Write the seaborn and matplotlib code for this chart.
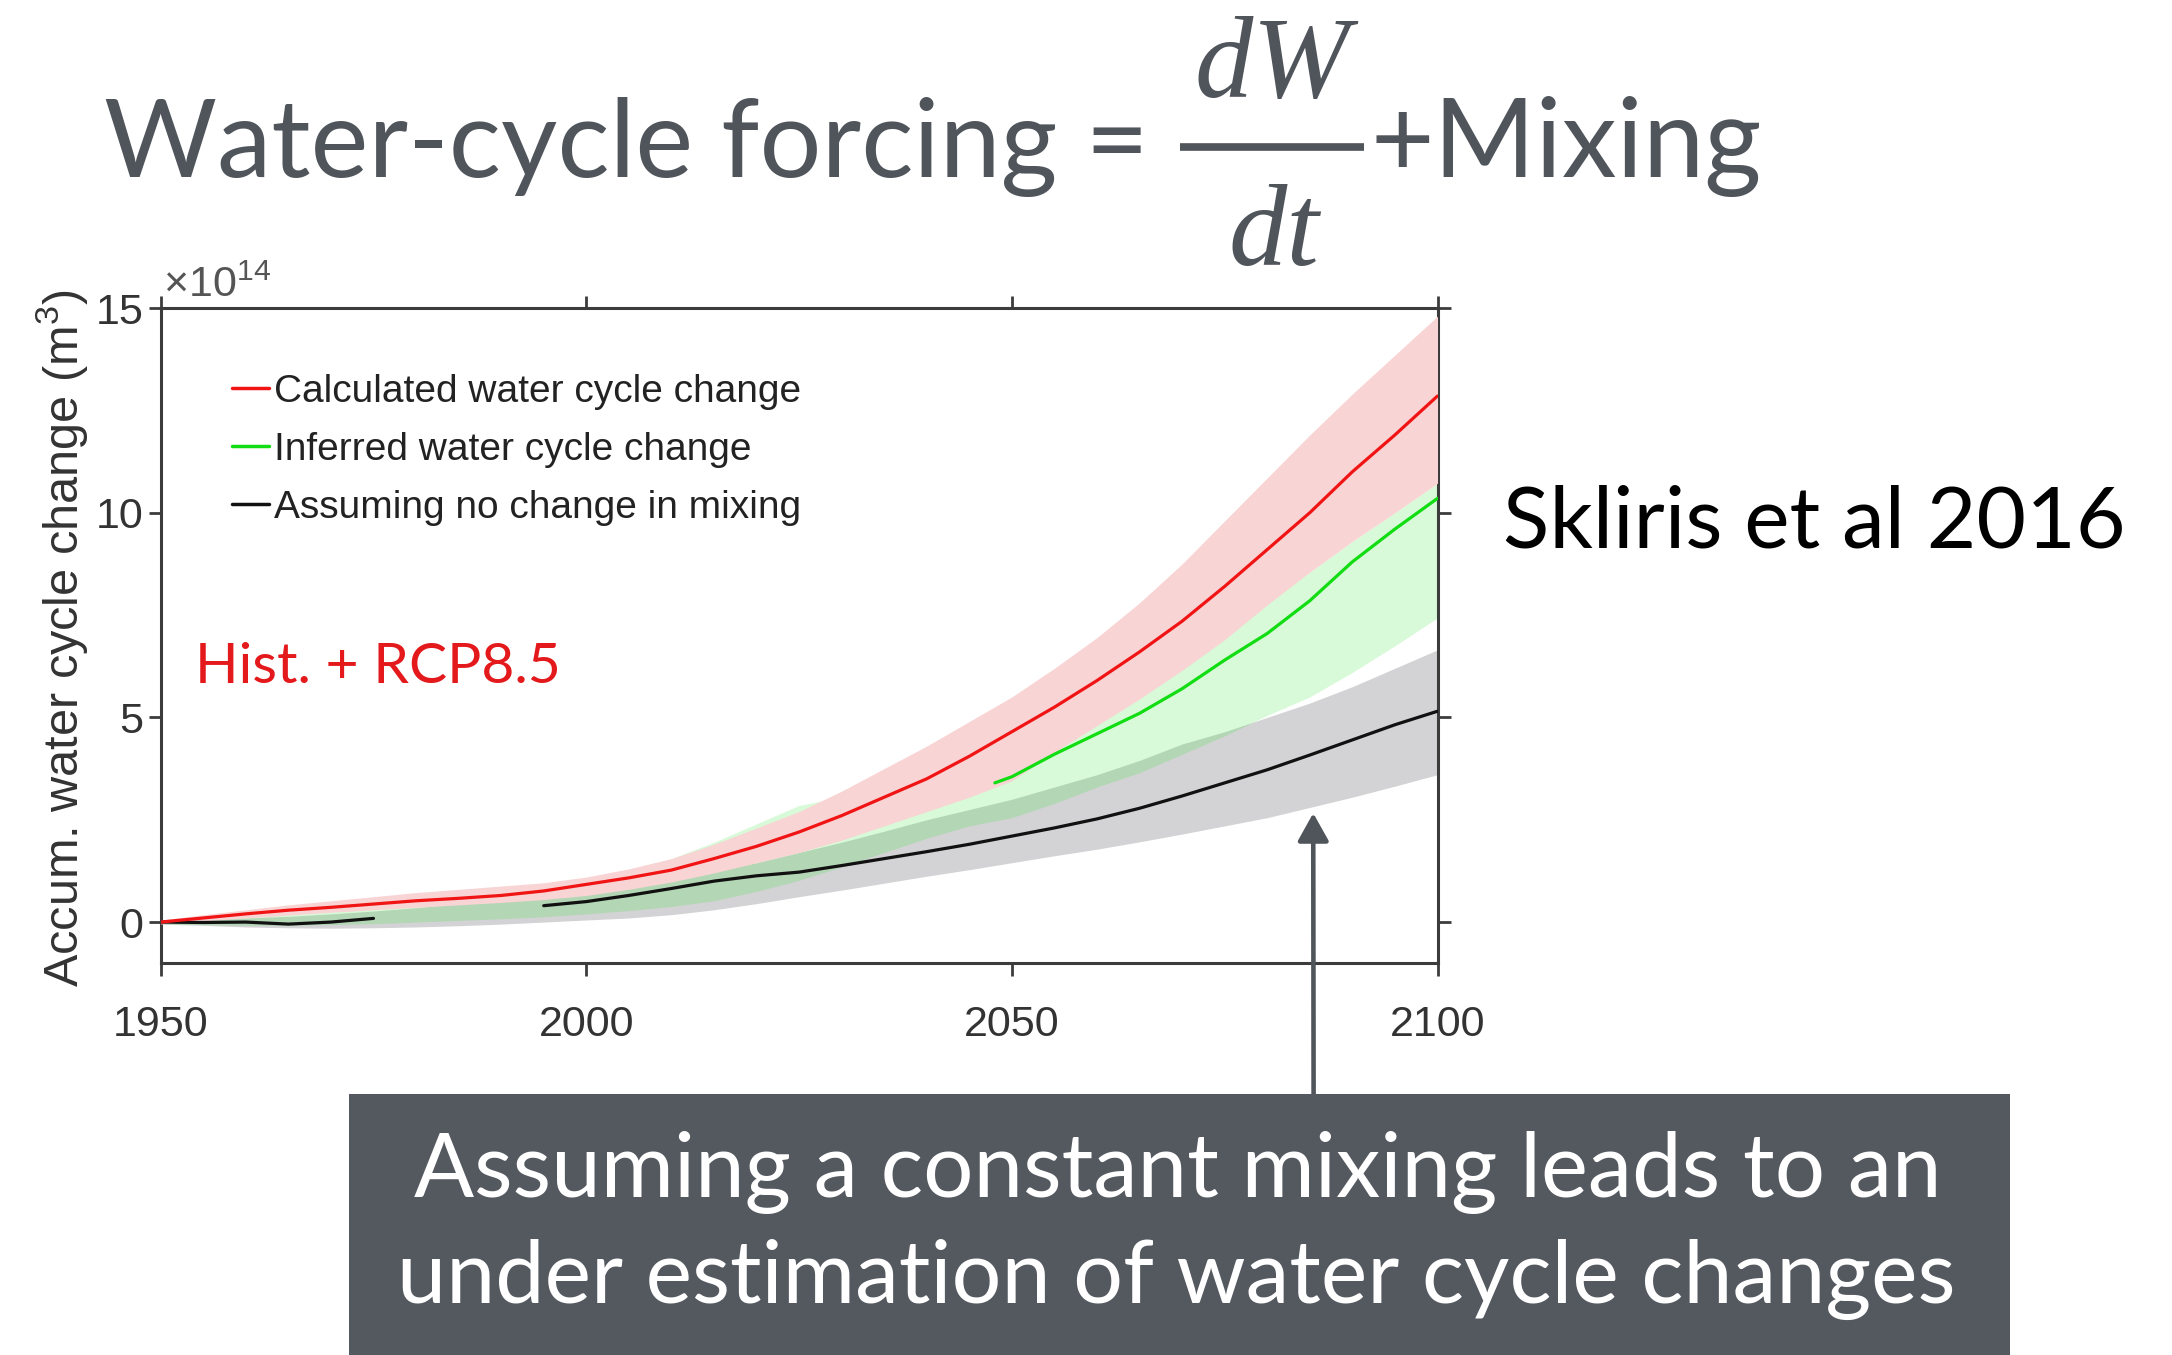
import numpy as np
import pandas as pd
import matplotlib
matplotlib.use("Agg")
import matplotlib.pyplot as plt
import seaborn as sns
from matplotlib.lines import Line2D
from matplotlib.patches import Rectangle
from matplotlib import font_manager

# ---------------- data (units of 1e14 m^3) ----------------
years = [1950, 1955, 1960, 1965, 1970, 1975, 1980, 1985, 1990, 1995, 2000,
         2005, 2010, 2015, 2020, 2025, 2030, 2035, 2040, 2045, 2050,
         2055, 2060, 2065, 2070, 2075, 2080, 2085, 2090, 2095, 2100]

calc_mean = [0.00, 0.10, 0.20, 0.29, 0.36, 0.44, 0.52, 0.58, 0.65, 0.76, 0.92,
             1.08, 1.27, 1.55, 1.85, 2.20, 2.60, 3.05, 3.50, 4.05, 4.65,
             5.25, 5.90, 6.60, 7.35, 8.20, 9.10, 10.00, 11.00, 11.90, 12.85]
calc_upper = [0.05, 0.18, 0.30, 0.42, 0.52, 0.62, 0.72, 0.80, 0.88, 0.96, 1.10,
              1.30, 1.55, 1.90, 2.30, 2.70, 3.20, 3.75, 4.30, 4.90, 5.50,
              6.20, 6.95, 7.80, 8.75, 9.80, 10.85, 11.90, 12.90, 13.85, 14.80]
calc_lower = [-0.05, 0.03, 0.10, 0.17, 0.24, 0.30, 0.36, 0.42, 0.48, 0.55, 0.65,
              0.80, 0.98, 1.20, 1.45, 1.70, 2.00, 2.35, 2.70, 3.05, 3.45,
              4.15, 4.80, 5.45, 6.15, 6.90, 7.75, 8.55, 9.30, 10.00, 10.72]

inferred_years = [2048, 2050, 2055, 2060, 2065, 2070, 2075, 2080, 2085, 2090, 2095, 2100]
inferred_mean = [3.40, 3.55, 4.10, 4.60, 5.10, 5.70, 6.40, 7.05, 7.85, 8.80, 9.60, 10.35]
inferred_upper = [0.03, 0.10, 0.17, 0.24, 0.32, 0.40, 0.50, 0.62, 0.76, 0.90, 1.05,
                  1.28, 1.55, 1.95, 2.40, 2.85, 3.05, 3.15, 3.25, 3.35, 3.65,
                  4.25, 4.85, 5.50, 6.20, 6.95, 7.80, 8.55, 9.30, 10.00, 10.72]
inferred_lower = [-0.05, -0.06, -0.08, -0.08, -0.06, -0.04, 0.00, 0.04, 0.08, 0.13, 0.20,
                  0.28, 0.38, 0.52, 0.75, 1.02, 1.35, 1.70, 2.05, 2.35, 2.55,
                  2.90, 3.30, 3.65, 4.10, 4.55, 5.05, 5.50, 6.10, 6.75, 7.43]

nomix_mean = [0.00, -0.01, 0.00, -0.05, 0.00, 0.09, np.nan, np.nan, np.nan, 0.40, 0.50,
              0.65, 0.82, 1.00, 1.13, 1.22, 1.38, 1.55, 1.72, 1.90, 2.10,
              2.30, 2.52, 2.78, 3.08, 3.40, 3.72, 4.08, 4.45, 4.82, 5.15]
nomix_upper = [0.05, 0.07, 0.10, 0.14, 0.20, 0.27, 0.35, 0.45, 0.55, 0.67, 0.80,
               0.92, 1.05, 1.25, 1.45, 1.70, 1.95, 2.22, 2.50, 2.75, 3.00,
               3.30, 3.60, 3.95, 4.35, 4.65, 5.00, 5.35, 5.75, 6.20, 6.65]
nomix_lower = [-0.05, -0.08, -0.12, -0.14, -0.15, -0.14, -0.12, -0.09, -0.05, 0.00, 0.05,
               0.10, 0.18, 0.30, 0.45, 0.62, 0.78, 0.95, 1.12, 1.28, 1.45,
               1.62, 1.78, 1.96, 2.15, 2.35, 2.55, 2.80, 3.05, 3.32, 3.60]

x_ticks = [1950, 2000, 2050, 2100]
y_ticks = [0, 5, 10, 15]
legend_labels = ["Calculated water cycle change",
                 "Inferred water cycle change",
                 "Assuming no change in mixing"]
arrow_target = (2085.4, 2.66)

# ---------------- style ----------------
sns.set_theme(style="white")
names = {f.name for f in font_manager.fontManager.ttflist}
plot_font = "Liberation Sans" if "Liberation Sans" in names else "DejaVu Sans"
tick_font = "Liberation Sans Narrow" if "Liberation Sans Narrow" in names else plot_font
slide_font = "Lato" if "Lato" in names else "DejaVu Sans"
plt.rcParams["font.family"] = [plot_font, "DejaVu Sans"]
plt.rcParams["mathtext.fontset"] = "custom"
plt.rcParams["mathtext.rm"] = plot_font
plt.rcParams["mathtext.it"] = plot_font + ":italic"

SLIDE_GRAY = "#50555c"
BOX_GRAY = "#54585f"
AX_GRAY = "#3c3c3c"
RED = "#f01414"
GREEN = "#12dc12"
PINK = "#f9d4d4"
LGRAY = "#d3d3d5"
SLIDE_WEIGHT = "normal"

W, H = 2172, 1355
fig = plt.figure(figsize=(W / 100, H / 100), dpi=100)
fig.patch.set_facecolor("white")

ax = fig.add_axes([160.7 / W, 1 - 963 / H, (1437.5 - 160.7) / W, (963 - 308) / H])
ax.set_facecolor("white")

df_calc = pd.DataFrame({"year": years, "mean": calc_mean})
df_inf = pd.DataFrame({"year": inferred_years, "mean": inferred_mean})
df_nomix = pd.DataFrame({"year": years, "mean": nomix_mean})

# bands
ax.fill_between(years, nomix_lower, nomix_upper, color=LGRAY, lw=0, zorder=1)
ax.fill_between(years, inferred_lower, inferred_upper, color=(0.1, 0.9, 0.1), alpha=0.17, lw=0, zorder=2)
ax.fill_between(years, calc_lower, calc_upper, color=PINK, lw=0, zorder=3)

# lines (black line split at its gap)
valid = df_nomix["mean"].notna()
seg_id = (~valid).cumsum()
for _, seg in df_nomix[valid].groupby(seg_id[valid]):
    sns.lineplot(data=seg, x="year", y="mean", color="#111111", lw=2.3, ax=ax,
                 estimator=None, sort=False, zorder=4)
sns.lineplot(data=df_inf, x="year", y="mean", color=GREEN, lw=2.3, ax=ax,
             estimator=None, sort=False, zorder=5)
sns.lineplot(data=df_calc, x="year", y="mean", color=RED, lw=2.3, ax=ax,
             estimator=None, sort=False, zorder=6)

ax.set_xlim(1950, 2100)
ax.set_ylim(-1.0, 15)
ax.set_xticks(x_ticks)
ax.set_yticks(y_ticks)
ax.set_xticklabels([str(v) for v in x_ticks], fontfamily=tick_font, fontsize=31, color="#333333")
ax.set_yticklabels([str(v) for v in y_ticks], fontfamily=tick_font, fontsize=31, color="#333333")
ax.set_xlabel("")
ax.set_ylabel("")
for s in ax.spines.values():
    s.set_visible(True)
    s.set_color(AX_GRAY)
    s.set_linewidth(2.2)
ax.tick_params(axis="both", direction="out", length=9, width=2, color=AX_GRAY,
               top=True, right=True, bottom=True, left=True)
ax.tick_params(axis="x", pad=21)
ax.tick_params(axis="y", pad=3.5)

# y label
fig.text(62 / W, 1 - 638 / H, r"Accum. water cycle change (m$^3$)", rotation=90,
         ha="center", va="center", fontsize=35, color="#333333")
# offset text
fig.text(163 / W, 1 - 297 / H, r"$\times10^{14}$", ha="left", va="baseline",
         fontsize=31, color="#555555")

# legend
handles = [Line2D([], [], color=c, lw=2.5) for c in (RED, GREEN, "#111111")]
leg = ax.legend(handles, legend_labels, loc="upper left", frameon=False,
                bbox_to_anchor=(232 / W, 1 - 374 / H), bbox_transform=fig.transFigure,
                fontsize=28, handlelength=0.95, handletextpad=0.12, labelspacing=0.56,
                borderpad=0, borderaxespad=0)
for t in leg.get_texts():
    t.set_color("#222222")

# Hist + RCP8.5
hist = ax.text((195 - 160.7) / (1437.5 - 160.7), (963 - 683) / (963 - 308), "Hist. + RCP8.5",
               transform=ax.transAxes, ha="left", va="baseline", fontsize=38,
               color="#e3191c", fontfamily=[slide_font, "DejaVu Sans"])

# ---------------- slide elements ----------------
title = fig.text(104 / W, 1 - 177 / H, "Water-cycle forcing =", ha="left", va="baseline",
                 fontsize=76, color=SLIDE_GRAY, fontfamily=[slide_font, "DejaVu Sans"],
                 fontweight=SLIDE_WEIGHT)
mixing = fig.text(1371 / W, 1 - 177 / H, "+Mixing", ha="left", va="baseline",
                  fontsize=76, color=SLIDE_GRAY, fontfamily=[slide_font, "DejaVu Sans"],
                  fontweight=SLIDE_WEIGHT)
fig.text(1272 / W, 1 - 97 / H, "dW", ha="center", va="baseline", fontsize=84,
         color=SLIDE_GRAY, fontfamily=["Liberation Serif", "DejaVu Serif"], style="italic")
fig.text(1274 / W, 1 - 265 / H, "dt", ha="center", va="baseline", fontsize=84,
         color=SLIDE_GRAY, fontfamily=["Liberation Serif", "DejaVu Serif"], style="italic")
fig.add_artist(Line2D([1180 / W, 1364 / W], [1 - 147 / H, 1 - 147 / H],
                      transform=fig.transFigure, color=SLIDE_GRAY, lw=5.5,
                      solid_capstyle="butt"))

skl = fig.text(1503 / W, 1 - 547 / H, "Skliris et al 2016", ha="left", va="baseline",
               fontsize=62, color="black", fontfamily=[slide_font, "DejaVu Sans"],
               fontweight=SLIDE_WEIGHT)

fig.add_artist(Rectangle((349 / W, 0), (2010 - 349) / W, (1355 - 1094) / H,
                         transform=fig.transFigure, facecolor=BOX_GRAY, edgecolor="none"))
l1 = fig.text(1178 / W, 1 - 1197 / H, "Assuming a constant mixing leads to an",
              ha="center", va="baseline", fontsize=60, color="white",
              fontfamily=[slide_font, "DejaVu Sans"], fontweight=SLIDE_WEIGHT)
l2 = fig.text(1176 / W, 1 - 1303 / H, "under estimation of water cycle changes",
              ha="center", va="baseline", fontsize=60, color="white",
              fontfamily=[slide_font, "DejaVu Sans"], fontweight=SLIDE_WEIGHT)

ax.annotate("", xy=arrow_target, xycoords="data",
            xytext=(1313.6 / W, 1 - 1094 / H), textcoords="figure fraction",
            annotation_clip=False,
            arrowprops=dict(arrowstyle="-|>,head_length=1.7,head_width=0.95",
                            mutation_scale=10, lw=3.3, color=SLIDE_GRAY,
                            shrinkA=0, shrinkB=0))

# fit slide text widths to the reference
fig.canvas.draw()
r = fig.canvas.get_renderer()
for t, target in ((title, 1043), (mixing, 1762 - 1371), (skl, 623), (l1, 1529), (l2, 1560),
                  (hist, 365)):
    w = t.get_window_extent(r).width
    t.set_fontsize(t.get_fontsize() * target / w)

fig.savefig("out.png", dpi=100, facecolor="white")
